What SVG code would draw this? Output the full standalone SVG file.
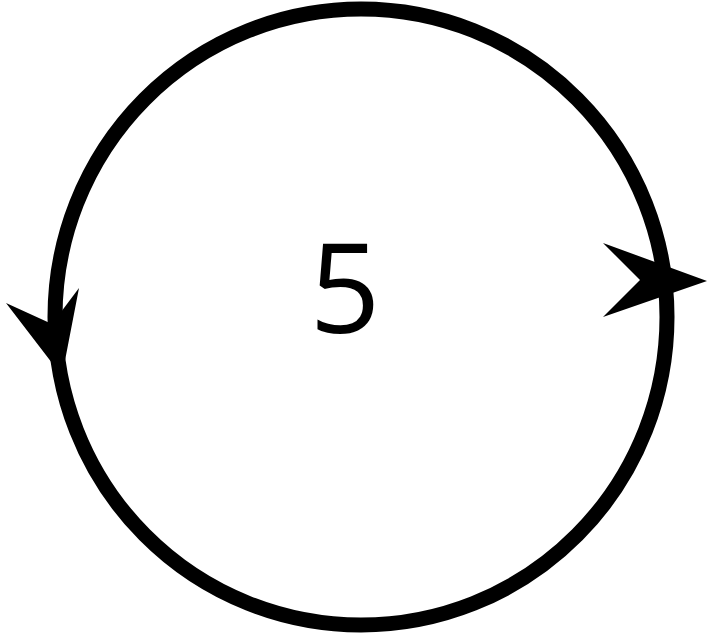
<svg xmlns="http://www.w3.org/2000/svg" width="711" height="635" viewBox="0 0 711 635">
<style>
.ring{fill:none;stroke:#000;stroke-width:15}
.head{fill:#000}
.lbl{font-family:"Open Sans","Noto Sans",sans-serif;font-size:124px;fill:#000}
</style>
<rect width="711" height="635" fill="#fff"/>
<g id="node5">
<ellipse class="ring" cx="361" cy="317" rx="306" ry="308"/>
<text class="lbl" x="345" y="333" text-anchor="middle">5</text>
</g>
<g id="connectors">
<polygon class="head" points="6,303 52,324 79,288 62,376"/>
<polygon class="head" points="603,243 640,280 603,317 707,281"/>
</g>
</svg>
